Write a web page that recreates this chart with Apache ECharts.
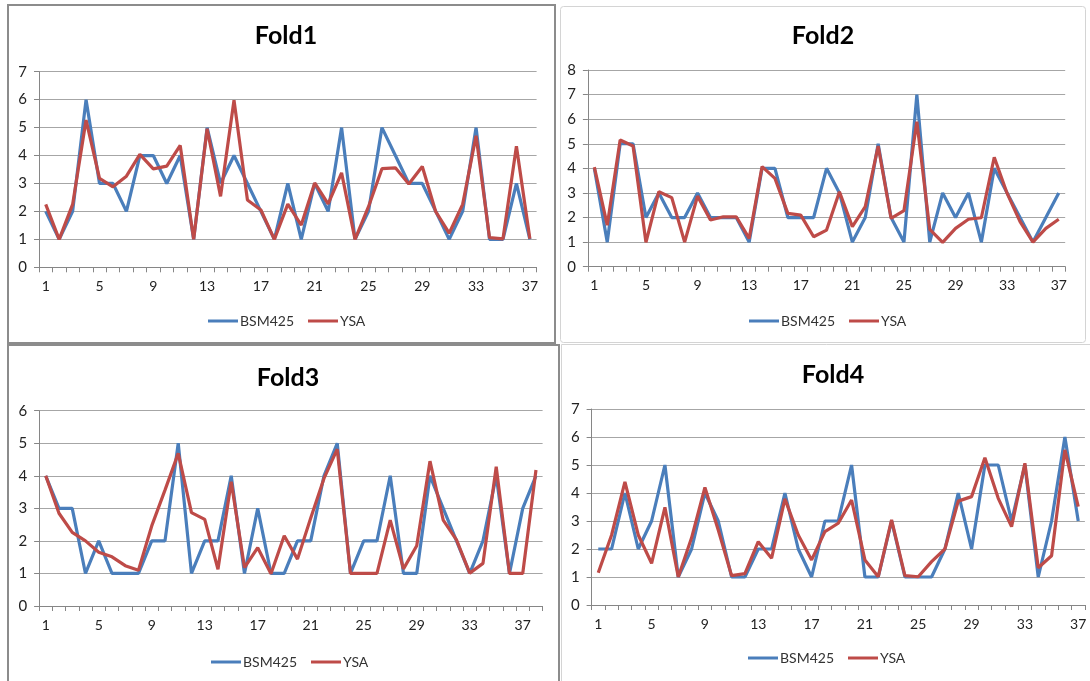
<!DOCTYPE html>
<html>
<head>
<meta charset="utf-8">
<script src="https://cdn.jsdelivr.net/npm/echarts@6/dist/echarts.min.js"></script>
<style>
html,body{margin:0;padding:0;background:#fff;}
#c{width:1090px;height:681px;}
</style>
</head>
<body>
<div id="c"></div>
<script>
// Data
const titles = ['Fold1', 'Fold2', 'Fold3', 'Fold4'];
const seriesNames = ['BSM425', 'YSA'];

const fold1BSM = [2,1,2,6,3,3,2,4,4,3,4,1,5,3,4,3,2,1,3,1,3,2,5,1,2,5,4,3,3,2,1,2,5,1,1,3,1];
const fold1YSA = [2.25,1,2.25,5.27,3.18,2.88,3.26,4.04,3.52,3.62,4.36,1,4.96,2.54,5.98,2.41,2.05,1,2.26,1.51,3.02,2.27,3.38,1,2.17,3.53,3.56,2.98,3.61,1.99,1.22,2.25,4.71,1.06,1.02,4.33,1.02];

const fold2BSM = [4,1,5,5,2,3,2,2,3,2,2,2,1,4,4,2,2,2,4,3,1,2,5,2,1,7,1,3,2,3,1,4,3,2,1,2,3];
const fold2YSA = [4.05,1.69,5.15,4.91,0.99,3.05,2.81,1,2.87,1.9,2.03,2.03,1.15,4.07,3.59,2.17,2.1,1.22,1.49,3.05,1.63,2.44,4.91,1.97,2.28,5.9,1.52,0.99,1.56,1.93,1.99,4.45,2.98,1.83,1,1.56,1.93];

const fold3BSM = [4,3,3,1,2,1,1,1,2,2,5,1,2,2,4,1,3,1,1,2,2,4,5,1,2,2,4,1,1,4,3,2,1,2,4,1,3,4];
const fold3YSA = [4,2.85,2.26,2,1.65,1.51,1.24,1.1,2.46,3.56,4.69,2.87,2.66,1.13,3.82,1.18,1.79,0.99,2.16,1.44,2.7,3.92,4.82,1,1,1,2.64,1.14,1.85,4.45,2.64,2.03,1.01,1.31,4.28,1,1,4.18];

const fold4BSM = [2,2,4,2,3,5,1,2,4,3,1,1,2,2,4,2,1,3,3,5,1,1,3,1,1,1,2,4,2,5,5,3,5,1,3,6,3];
const fold4YSA = [1.15,2.5,4.4,2.5,1.49,3.49,1,2.4,4.2,2.68,1.05,1.12,2.26,1.67,3.79,2.5,1.61,2.62,2.92,3.75,1.61,1.01,3.04,1.05,1.01,1.55,2.0,3.71,3.87,5.26,3.81,2.8,5.06,1.33,1.76,5.54,3.51];

const yMax = [7, 8, 6, 7];

const allData = [[fold1BSM, fold1YSA],[fold2BSM, fold2YSA],[fold3BSM, fold3YSA],[fold4BSM, fold4YSA]];

// Layout (pixels)
const grids = [
  {left: 39, top: 71.7, width: 497.6, height: 195.6},
  {left: 587.9, top: 70, width: 477.3, height: 196.7},
  {left: 39.1, top: 410.7, width: 503.5, height: 195.3},
  {left: 591.6, top: 409, width: 493.3, height: 196}
];
const titlePos = [[281, 18],[818, 18],[283, 360],[828, 357]];
const legendPos = [[203, 309],[744, 309],[206, 650],[743, 646]];

const colors = ['#4a7ebb', '#be4b48'];
const fontFam = 'Lato, "Liberation Sans", sans-serif';

const option = {
  animation: false,
  backgroundColor: '#ffffff',
  color: colors,
  title: titles.map((t, i) => ({
    text: t,
    left: titlePos[i][0],
    top: titlePos[i][1],
    textAlign: 'center',
    textStyle: {fontFamily: fontFam, fontWeight: 'bold', fontSize: 25, color: '#000'}
  })),
  legend: legendPos.map((p, i) => ({
    data: seriesNames,
    left: p[0],
    top: p[1],
    icon: 'rect',
    itemWidth: 30,
    itemHeight: 3,
    itemGap: 14,
    selectedMode: false,
    textStyle: {fontFamily: fontFam, fontSize: 14, color: '#333', padding: [0,0,0,-3]}
  })),
  grid: grids.map(g => Object.assign({containLabel: false}, g)),
  xAxis: allData.map((d, i) => ({
    type: 'category',
    gridIndex: i,
    data: d[0].map((_, k) => String(k + 1)),
    boundaryGap: true,
    axisLine: {show: true, lineStyle: {color: '#868686', width: 1}},
    axisTick: {show: true, interval: 0, length: 5, lineStyle: {color: '#868686'}},
    axisLabel: {interval: 3, margin: 12, fontFamily: fontFam, fontSize: 14, color: '#222'},
    splitLine: {show: false}
  })),
  yAxis: allData.map((d, i) => ({
    type: 'value',
    gridIndex: i,
    min: 0,
    max: yMax[i],
    interval: 1,
    axisLine: {show: true, lineStyle: {color: '#868686', width: 1}},
    axisTick: {show: true, length: 5, lineStyle: {color: '#868686'}},
    axisLabel: {margin: 12, fontFamily: fontFam, fontSize: 15, color: '#222'},
    splitLine: {show: true, lineStyle: {color: '#a6a6a6', width: 1}}
  })),
  series: [],
  graphic: [
    {type: 'rect', shape: {x: 8, y: 5, width: 547, height: 338}, style: {fill: 'none', stroke: '#8c8c8c', lineWidth: 2}, silent: true, z: 100},
    {type: 'rect', shape: {x: 560.5, y: 6.5, width: 525, height: 336, r: 3}, style: {fill: 'none', stroke: '#d4d4d4', lineWidth: 1}, silent: true, z: 100},
    {type: 'rect', shape: {x: 8, y: 345, width: 551, height: 345}, style: {fill: 'none', stroke: '#8c8c8c', lineWidth: 2}, silent: true, z: 100},
    {type: 'rect', shape: {x: 561.5, y: 344.5, width: 540, height: 345}, style: {fill: 'none', stroke: '#d4d4d4', lineWidth: 1}, silent: true, z: 100}
  ]
};

allData.forEach((d, i) => {
  d.forEach((vals, j) => {
    option.series.push({
      type: 'line',
      name: seriesNames[j],
      xAxisIndex: i,
      yAxisIndex: i,
      data: vals,
      showSymbol: false,
      symbol: 'none',
      smooth: false,
      lineStyle: {width: 3.2, color: colors[j]},
      itemStyle: {color: colors[j]},
      z: 2 + j
    });
  });
});

const chart = echarts.init(document.getElementById('c'), null, {renderer: 'canvas'});
chart.setOption(option);
</script>
</body>
</html>
